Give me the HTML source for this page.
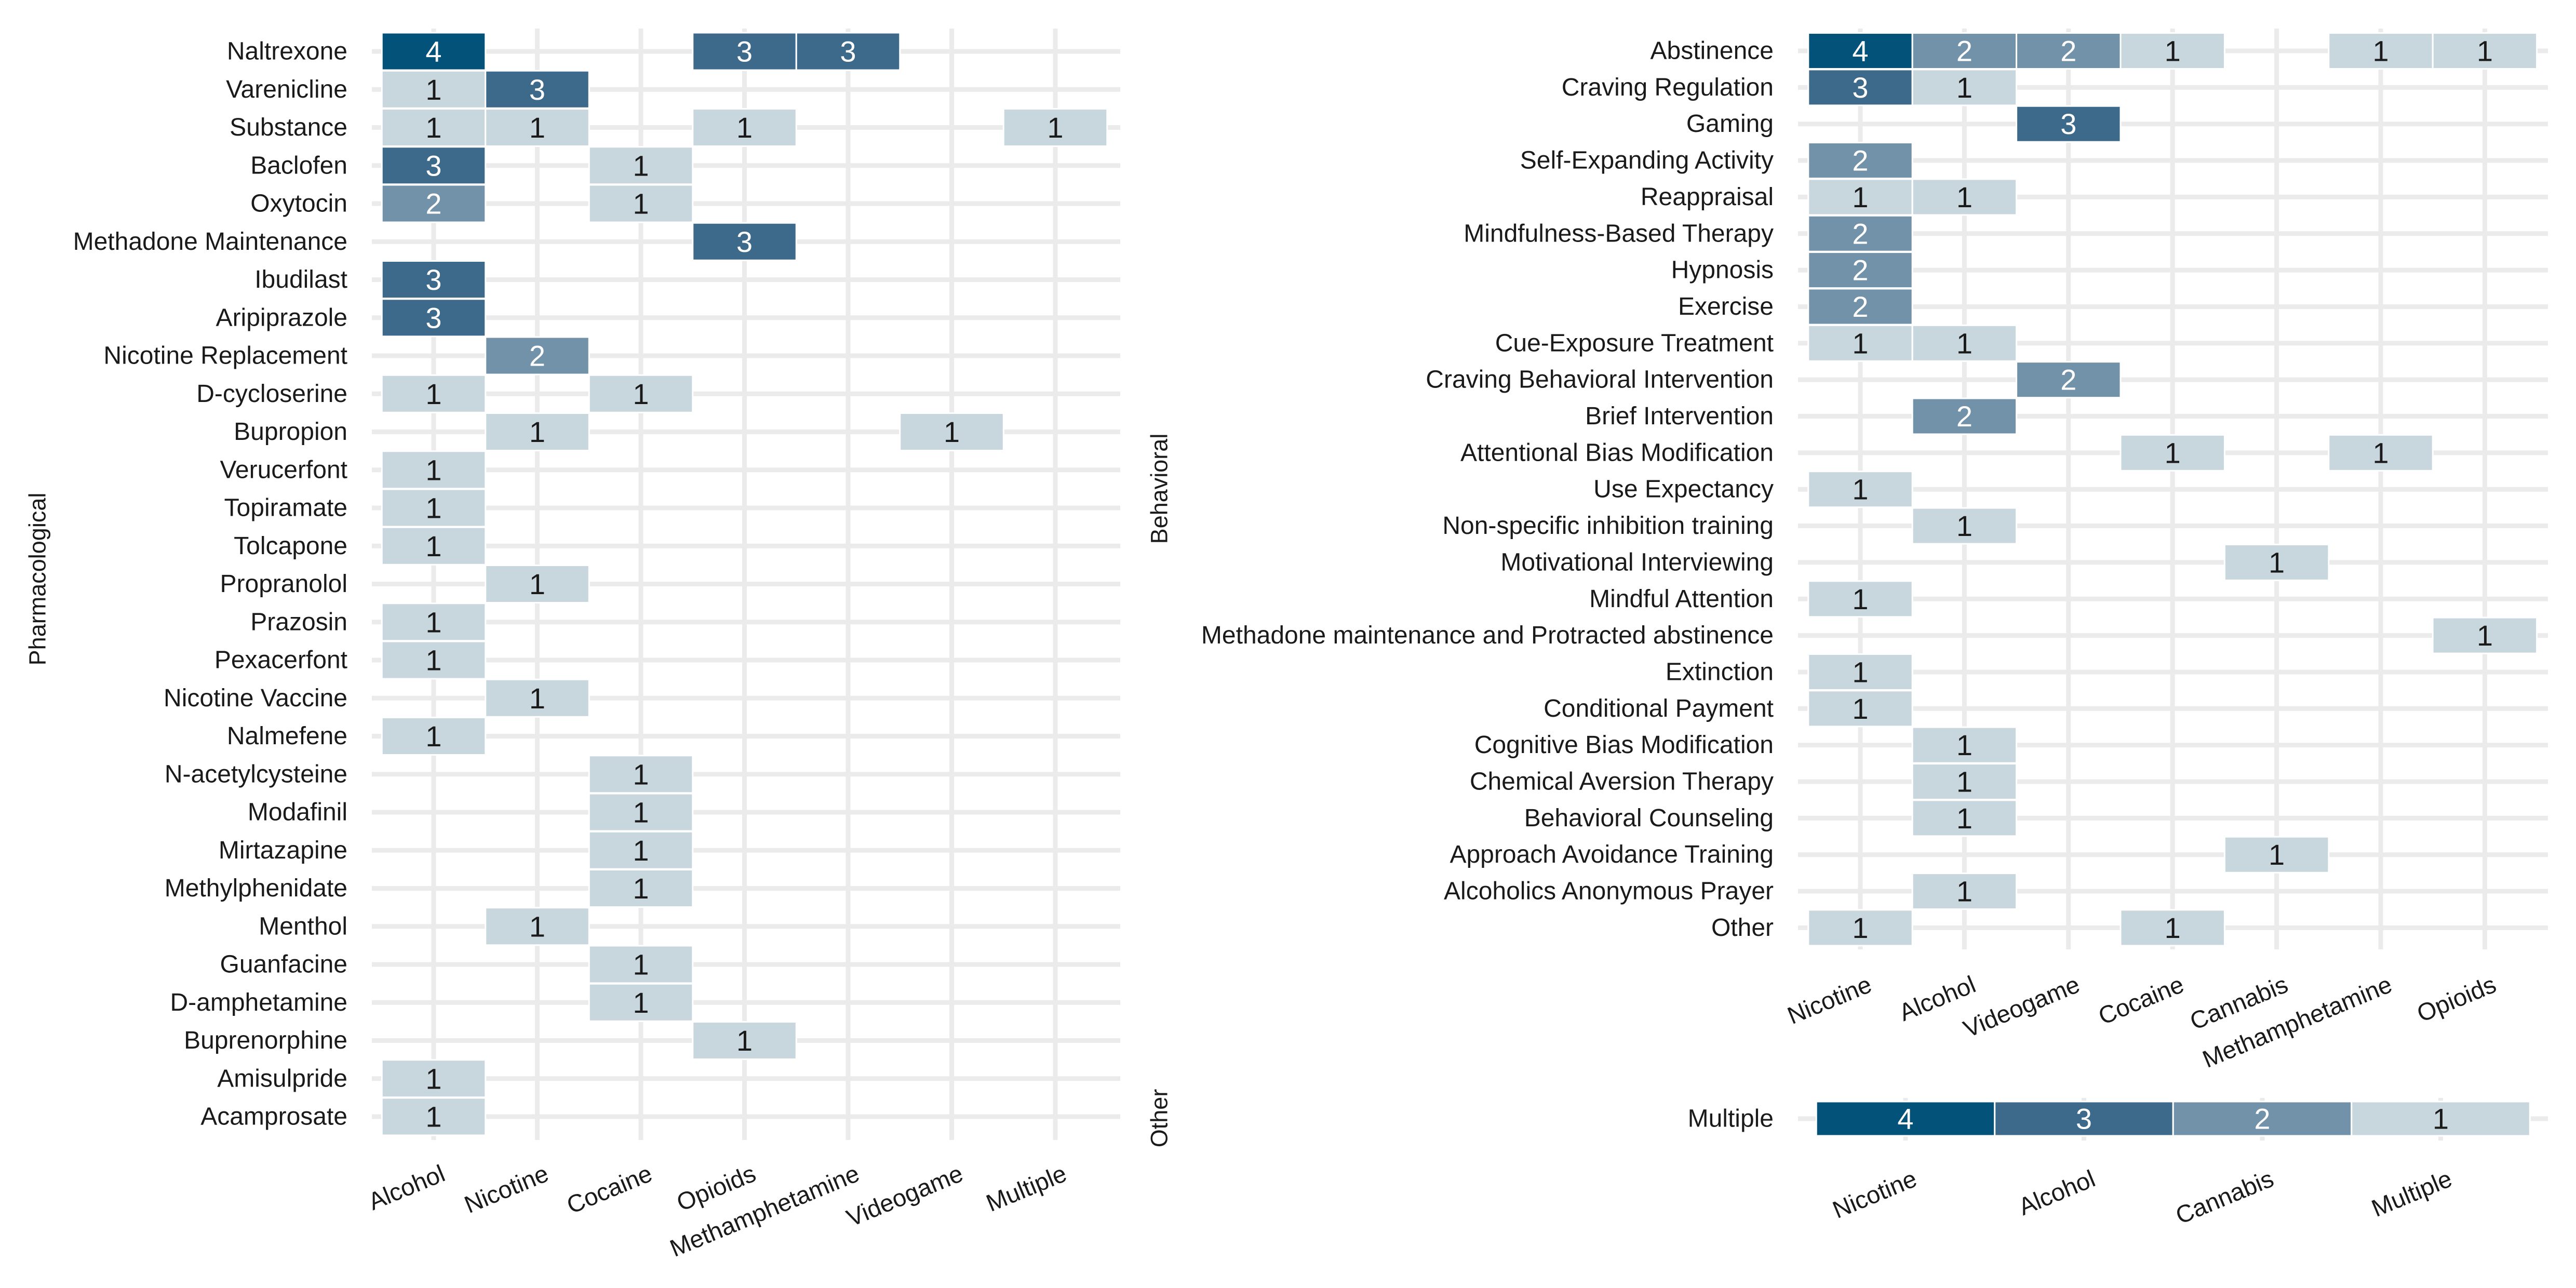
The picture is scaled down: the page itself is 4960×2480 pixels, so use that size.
<!DOCTYPE html>
<html><head><meta charset="utf-8"><style>
html,body{margin:0;padding:0;background:#fff}
svg{display:block}
text{font-family:"Liberation Sans",sans-serif}
</style></head><body>
<svg id="chart" width="4960" height="2480" viewBox="0 0 4960 2480" xmlns="http://www.w3.org/2000/svg">
<rect width="4960" height="2480" fill="#fff"/>
<g id="p1"></g>
<g id="p2"></g>
<g id="p3"></g>
<text transform="translate(72,1115) rotate(-90)" text-anchor="middle" dominant-baseline="central" font-size="45" fill="#1a1a1a">Pharmacological</text>
<text transform="translate(2232,941) rotate(-90)" text-anchor="middle" dominant-baseline="central" font-size="45" fill="#1a1a1a">Behavioral</text>
<text transform="translate(2232,2153) rotate(-90)" text-anchor="middle" dominant-baseline="central" font-size="45" fill="#1a1a1a">Other</text>
</svg>
<script>
const p1Cols = ["Alcohol","Nicotine","Cocaine","Opioids","Methamphetamine","Videogame","Multiple"];
const p1Rows = ["Naltrexone","Varenicline","Substance","Baclofen","Oxytocin","Methadone Maintenance","Ibudilast","Aripiprazole","Nicotine Replacement","D-cycloserine","Bupropion","Verucerfont","Topiramate","Tolcapone","Propranolol","Prazosin","Pexacerfont","Nicotine Vaccine","Nalmefene","N-acetylcysteine","Modafinil","Mirtazapine","Methylphenidate","Menthol","Guanfacine","D-amphetamine","Buprenorphine","Amisulpride","Acamprosate"];
const p1Values = [
[4,0,0,3,3,0,0],[1,3,0,0,0,0,0],[1,1,0,1,0,0,1],[3,0,1,0,0,0,0],[2,0,1,0,0,0,0],
[0,0,0,3,0,0,0],[3,0,0,0,0,0,0],[3,0,0,0,0,0,0],[0,2,0,0,0,0,0],[1,0,1,0,0,0,0],
[0,1,0,0,0,1,0],[1,0,0,0,0,0,0],[1,0,0,0,0,0,0],[1,0,0,0,0,0,0],[0,1,0,0,0,0,0],
[1,0,0,0,0,0,0],[1,0,0,0,0,0,0],[0,1,0,0,0,0,0],[1,0,0,0,0,0,0],[0,0,1,0,0,0,0],
[0,0,1,0,0,0,0],[0,0,1,0,0,0,0],[0,0,1,0,0,0,0],[0,1,0,0,0,0,0],[0,0,1,0,0,0,0],
[0,0,1,0,0,0,0],[0,0,0,1,0,0,0],[1,0,0,0,0,0,0],[1,0,0,0,0,0,0]];
const p2Cols = ["Nicotine","Alcohol","Videogame","Cocaine","Cannabis","Methamphetamine","Opioids"];
const p2Rows = ["Abstinence","Craving Regulation","Gaming","Self-Expanding Activity","Reappraisal","Mindfulness-Based Therapy","Hypnosis","Exercise","Cue-Exposure Treatment","Craving Behavioral Intervention","Brief Intervention","Attentional Bias Modification","Use Expectancy","Non-specific inhibition training","Motivational Interviewing","Mindful Attention","Methadone maintenance and Protracted abstinence","Extinction","Conditional Payment","Cognitive Bias Modification","Chemical Aversion Therapy","Behavioral Counseling","Approach Avoidance Training","Alcoholics Anonymous Prayer","Other"];
const p2Values = [
[4,2,2,1,0,1,1],[3,1,0,0,0,0,0],[0,0,3,0,0,0,0],[2,0,0,0,0,0,0],[1,1,0,0,0,0,0],
[2,0,0,0,0,0,0],[2,0,0,0,0,0,0],[2,0,0,0,0,0,0],[1,1,0,0,0,0,0],[0,0,2,0,0,0,0],
[0,2,0,0,0,0,0],[0,0,0,1,0,1,0],[1,0,0,0,0,0,0],[0,1,0,0,0,0,0],[0,0,0,0,1,0,0],
[1,0,0,0,0,0,0],[0,0,0,0,0,0,1],[1,0,0,0,0,0,0],[1,0,0,0,0,0,0],[0,1,0,0,0,0,0],
[0,1,0,0,0,0,0],[0,1,0,0,0,0,0],[0,0,0,0,1,0,0],[0,1,0,0,0,0,0],[1,0,0,1,0,0,0]];
const p3Cols = ["Nicotine","Alcohol","Cannabis","Multiple"];
const p3Rows = ["Multiple"];
const p3Values = [[4,3,2,1]];

const NS="http://www.w3.org/2000/svg";
const fills={1:"#c8d6de",2:"#7292aa",3:"#3d6a8a",4:"#03527a"};
function mk(tag,attrs,parent){const e=document.createElementNS(NS,tag);for(const k in attrs)e.setAttribute(k,attrs[k]);parent.appendChild(e);return e;}

function panel(g,cols,rows,vals,cfg){
  const xs=i=>cfg.x0+i*cfg.dx, ys=j=>cfg.y0+j*cfg.dy;
  for(let i=0;i<cols.length;i++){
    const l=mk("line",{x1:xs(i),x2:xs(i),y1:cfg.gt,y2:cfg.gb,stroke:"#ebebeb","stroke-width":9},g);
    
    
  }
  for(let j=0;j<rows.length;j++){
    const l=mk("line",{x1:cfg.gl,x2:cfg.gr,y1:ys(j),y2:ys(j),stroke:"#ebebeb","stroke-width":9},g);
    
    
    const t=mk("text",{x:cfg.gl-47,y:ys(j),"text-anchor":"end","dominant-baseline":"central","font-size":48,fill:"#1a1a1a"},g);
    t.textContent=rows[j];
    
    
  }
  for(let j=0;j<rows.length;j++)for(let i=0;i<cols.length;i++){
    const v=vals[j][i]; if(!v)continue;
    const r=mk("rect",{x:xs(i)-cfg.dx/2,y:ys(j)-cfg.th/2,width:cfg.dx,height:cfg.th,fill:fills[v],stroke:"#fff","stroke-width":3},g);
    
    
    const t=mk("text",{x:xs(i),y:ys(j),"text-anchor":"middle","dominant-baseline":"central","font-size":56,fill:v>=2?"#fff":"#1a1a1a"},g);
    t.textContent=v;
    
    
  }
  for(let i=0;i<cols.length;i++){
    const t=mk("text",{transform:`translate(${xs(i)+12},${cfg.ly}) rotate(-22.5)`,"text-anchor":"end","dominant-baseline":"hanging","font-size":47,fill:"#1a1a1a"},g);
    t.textContent=cols[i];
    
    
  }
}
panel(document.getElementById("p1"),p1Cols,p1Rows,p1Values,{x0:835,dx:199.5,y0:99,dy:73.25,th:72,gl:716,gr:2157,gt:55,gb:2195,ly:2240});
panel(document.getElementById("p2"),p2Cols,p2Rows,p2Values,{x0:3582,dx:200.4,y0:98,dy:70.35,th:69,gl:3462,gr:4906,gt:55,gb:1828,ly:1876});
panel(document.getElementById("p3"),p3Cols,p3Rows,p3Values,{x0:3669,dx:343.5,y0:2154,dy:70,th:66,gl:3462,gr:4906,gt:2114,gb:2196,ly:2250});
</script>
</body></html>
